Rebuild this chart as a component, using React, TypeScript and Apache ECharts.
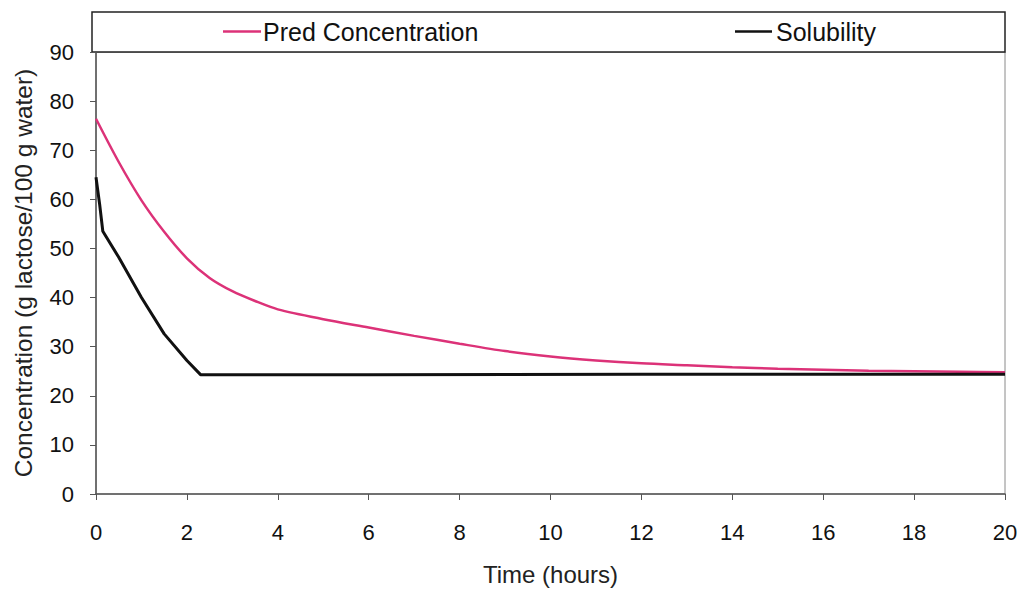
import React, { useEffect, useRef } from "react";
import * as echarts from "echarts";

const predTimes = [0, 0.5, 1, 1.5, 2, 2.5, 3, 3.5, 4, 5, 6, 7, 8, 9, 10, 11, 12, 13, 14, 15, 16, 17, 18, 19, 20];
const predValues = [76.4, 67.6, 59.8, 53.4, 48.0, 44.0, 41.3, 39.3, 37.6, 35.6, 33.9, 32.2, 30.6, 29.1, 28.0, 27.2, 26.6, 26.2, 25.8, 25.5, 25.3, 25.1, 25.0, 24.9, 24.8];

const solTimes = [0, 0.08, 0.15, 0.5, 1, 1.5, 2, 2.3, 6, 12, 20];
const solValues = [64.5, 59, 53.5, 48.2, 40.0, 32.6, 27.2, 24.3, 24.3, 24.4, 24.4];

const xTicks = [0, 2, 4, 6, 8, 10, 12, 14, 16, 18, 20];
const yTicks = [0, 10, 20, 30, 40, 50, 60, 70, 80, 90];

const seriesNames = ["Pred Concentration", "Solubility"];
const seriesColors = ["#dc3278", "#111111"];

export default function App() {
  const ref = useRef<HTMLDivElement>(null);
  useEffect(() => {
    if (!ref.current) return;
    const chart = echarts.init(ref.current, null, { renderer: "svg" });
    const font = "'Liberation Sans', Arial, sans-serif";
    const pred = predTimes.map((t, i) => [t, predValues[i]]);
    const sol = solTimes.map((t, i) => [t, solValues[i]]);
    chart.setOption({
      animation: false,
      backgroundColor: "#ffffff",
      grid: {
        left: 96,
        right: 17,
        top: 52,
        bottom: 95,
        show: true,
        borderColor: "#8a8a8a",
        borderWidth: 1,
        backgroundColor: "transparent",
      },
      graphic: [
        {
          type: "rect",
          shape: { x: 92, y: 12, width: 913, height: 40 },
          style: { fill: "#ffffff", stroke: "#222", lineWidth: 1.5 },
          z: 0,
        },
      ],
      legend: [
        {
          data: [seriesNames[0]],
          left: 223,
          top: 19,
          padding: 0,
          icon: "rect",
          itemWidth: 38,
          itemHeight: 2.5,
          itemGap: 0,
          textStyle: { fontFamily: font, fontSize: 25, color: "#111", padding: [0, 0, 0, -3] },
          z: 5,
        },
        {
          data: [seriesNames[1]],
          left: 735,
          top: 19,
          padding: 0,
          icon: "rect",
          itemWidth: 37,
          itemHeight: 2.5,
          itemGap: 0,
          textStyle: { fontFamily: font, fontSize: 25, color: "#111", padding: [0, 0, 0, -1] },
          z: 5,
        },
      ],
      xAxis: {
        type: "value",
        min: xTicks[0],
        max: xTicks[xTicks.length - 1],
        interval: xTicks[1] - xTicks[0],
        name: "Time (hours)",
        nameLocation: "middle",
        nameGap: 68,
        nameTextStyle: { fontFamily: font, fontSize: 24, color: "#222" },
        axisLine: { show: true, lineStyle: { color: "#555", width: 1.5 } },
        axisTick: { show: true, inside: false, length: 6, lineStyle: { color: "#555" } },
        axisLabel: { margin: 27, fontFamily: font, fontSize: 22, color: "#111" },
        splitLine: { show: false },
      },
      yAxis: {
        type: "value",
        min: yTicks[0],
        max: yTicks[yTicks.length - 1],
        interval: yTicks[1] - yTicks[0],
        name: "Concentration (g lactose/100 g water)",
        nameLocation: "middle",
        nameGap: 60,
        nameTextStyle: { fontFamily: font, fontSize: 24.5, color: "#222" },
        axisLine: { show: true, lineStyle: { color: "#555", width: 1.5 } },
        axisTick: { show: true, inside: false, length: 6, lineStyle: { color: "#555" } },
        axisLabel: { margin: 22, fontFamily: font, fontSize: 22, color: "#111" },
        splitLine: { show: false },
      },
      series: [
        {
          name: seriesNames[0],
          type: "line",
          data: pred,
          smooth: 0.3,
          showSymbol: false,
          lineStyle: { color: seriesColors[0], width: 2.5 },
          itemStyle: { color: seriesColors[0] },
          z: 3,
        },
        {
          name: seriesNames[1],
          type: "line",
          data: sol,
          showSymbol: false,
          lineStyle: { color: seriesColors[1], width: 3 },
          itemStyle: { color: seriesColors[1] },
          z: 4,
        },
      ],
    });
    return () => chart.dispose();
  }, []);
  return <div ref={ref} style={{ width: 1022, height: 591, position: "absolute", left: 0, top: 0 }} />;
}
